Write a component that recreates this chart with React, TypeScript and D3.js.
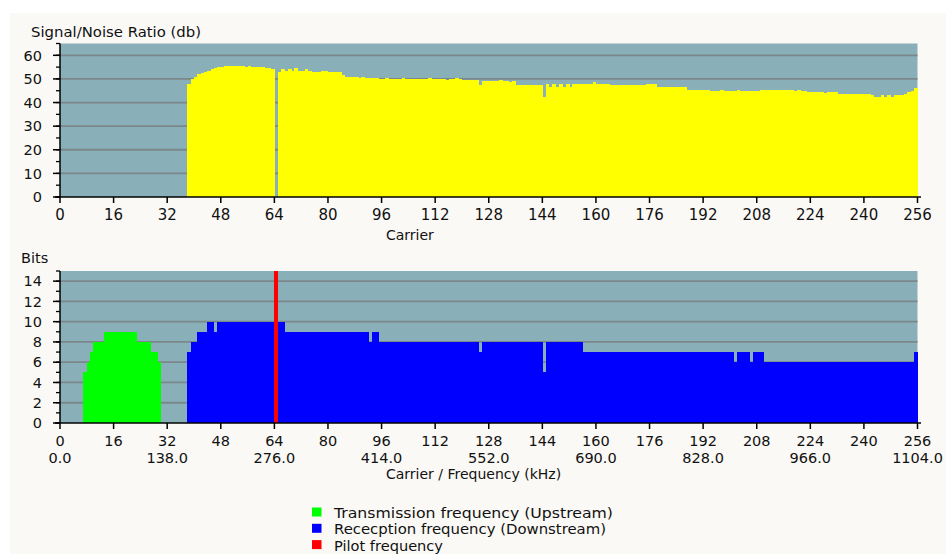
import React from "react";
import * as d3 from "d3";

// ---------- DATA ----------
const carrierTicks = [0, 16, 32, 48, 64, 80, 96, 112, 128, 144, 160, 176, 192, 208, 224, 240, 256];
const freqTickCarriers = [0, 32, 64, 96, 128, 160, 192, 224, 256];
const freqTickLabels = ["0.0", "138.0", "276.0", "414.0", "552.0", "690.0", "828.0", "966.0", "1104.0"];
const snrTicks = [0, 10, 20, 30, 40, 50, 60];
const bitsTicks = [0, 2, 4, 6, 8, 10, 12, 14];

// SNR per carrier 0..255 (dB)
const snrValues = [
  0, 0, 0, 0, 0, 0, 0, 0, 0, 0, 0, 0, 0, 0, 0, 0, 0, 0, 0, 0,
  0, 0, 0, 0, 0, 0, 0, 0, 0, 0, 0, 0, 0, 0, 0, 0, 0, 0,
  48, 50, 51, 52, 52.5, 53, 53.5, 54, 54.5, 55, 55, 55.5, 55.5, 55.5, 55.5, 55.5, 55.5, 55, 55.5, 55,
  55, 55, 55, 54.5, 54.5, 54,
  0,
  53, 54, 53.5, 54, 53.5, 54.5, 53.5, 53.5, 54, 53.5, 53, 53, 53, 53.5, 53.5, 53, 53, 53, 53,
  51.5, 51, 51, 51, 51, 50.5, 51, 50.5, 50.5, 50.5, 50.5,
  50, 50, 50.5, 50, 50, 50, 50, 50.5, 50, 50, 50, 50, 50, 50, 50, 50.5, 50, 50, 50, 50,
  49.5, 50, 50, 50.5, 50, 49.5, 49.5, 49.5, 49.5, 49.5,
  47.5,
  49, 49, 49, 49, 49, 49.5, 49, 49, 48.5, 49,
  47.5, 47.5, 47.5, 47.5, 47.5, 47.5, 47.5, 47.5,
  42.5,
  48, 46.5, 48, 46.5, 48, 46.5, 48, 46.5, 48, 48, 48,
  48, 48, 48, 48.5, 48, 48, 48, 48, 47.5, 47.5, 47.5,
  47.5, 47.5, 47.5, 47.5, 47.5, 47.5, 47.5, 47.5,
  48, 48, 48,
  46.5, 46.5, 46.5, 46.5, 46.5, 46.5, 46.5, 46.5, 46.5,
  45.5, 45.5, 45.5, 45.5, 45.5, 45.5, 45.5,
  45, 45, 45, 45.5, 45, 45, 45, 45, 45.5, 45, 45, 45, 45, 45, 45, 45.5,
  45.5, 45.5, 45.5, 45.5, 45.5, 45.5, 45.5, 45.5, 45.5, 45, 45.5,
  45, 45, 44.5, 44.5, 44.5, 44.5, 44.5, 44, 44.5, 44.5, 44.5,
  43.5, 43.5, 43.5, 43.5, 43.5, 43.5, 43.5, 43.5, 43.5, 43.5,
  43, 42.5, 42.5, 43, 42.5, 43, 42.5, 43, 43, 43,
  43.5, 44.5, 45, 46,
];

// Upstream bits, carriers 7..29
const upstreamStart = 7;
const upstreamBits = [5, 6, 7, 8, 8, 8, 9, 9, 9, 9, 9, 9, 9, 9, 9, 9, 8, 8, 8, 8, 7, 7, 6];

// Downstream bits, carriers 38..255
const downstreamStart = 38;
const downstreamBits = [
  7, 8, 8, 9, 9, 9, 10, 10, 9,
  10, 10, 10, 10, 10, 10, 10, 10, 10, 10, 10, 10, 10, 10, 10, 10, 10, 10, 10, 10,
  9, 9, 9, 9, 9, 9, 9, 9, 9, 9, 9, 9, 9, 9, 9, 9, 9, 9, 9, 9, 9, 9, 9, 9, 9,
  8, 9, 9,
  8, 8, 8, 8, 8, 8, 8, 8, 8, 8, 8, 8, 8, 8, 8, 8, 8, 8, 8, 8, 8, 8, 8, 8, 8, 8, 8, 8, 8, 8,
  7,
  8, 8, 8, 8, 8, 8, 8, 8, 8, 8, 8, 8, 8, 8, 8, 8, 8, 8,
  5,
  8, 8, 8, 8, 8, 8, 8, 8, 8, 8, 8,
  7, 7, 7, 7, 7, 7, 7, 7, 7, 7, 7, 7, 7, 7, 7, 7, 7, 7, 7, 7, 7, 7, 7, 7, 7,
  7, 7, 7, 7, 7, 7, 7, 7, 7, 7, 7, 7, 7, 7, 7, 7, 7, 7, 7, 7,
  6, 7, 7, 7, 7, 6, 7, 7, 7,
  6, 6, 6, 6, 6, 6, 6, 6, 6, 6, 6, 6, 6, 6, 6, 6, 6, 6, 6, 6, 6, 6, 6, 6, 6,
  6, 6, 6, 6, 6, 6, 6, 6, 6, 6, 6, 6, 6, 6, 6, 6, 6, 6, 6, 6,
  7,
];

const pilotCarrier = 64;

const legendItems = [
  { label: "Transmission frequency (Upstream)", color: "#00ff00", len: 279 },
  { label: "Rececption frequency (Downstream)", color: "#0000ff", len: 272 },
  { label: "Pilot frequency", color: "#ff0000", len: 109 },
];

// ---------- STYLE ----------
const FONT = "'DejaVu Sans', Verdana, sans-serif";
const PLOT_BG = "#89afb8";
const GRID = "#7b878a";
const PAGE_BG = "#fbf9f6";

export default function App() {
  const x = d3.scaleLinear().domain([0, 256]).range([60, 917.5]);
  const ySnr = d3.scaleLinear().domain([0, 65]).range([197, 43.5]);
  const yBits = d3.scaleLinear().domain([0, 15]).range([423, 271]);
  const bw = x(1) - x(0);

  const snrMinor = d3.range(0, 66, 5);
  const bitsMinor = d3.range(0, 16, 1);

  const yAxis = (y: any, major: number[], minor: number[]) => (
    <g>
      <line x1={60} x2={60} y1={y.range()[1]} y2={y.range()[0]} stroke="#000" strokeWidth={1.5} />
      {minor.map((t) => (
        <line key={"m" + t} x1={56} x2={60} y1={y(t)} y2={y(t)} stroke="#000" strokeWidth={1.3} />
      ))}
      {major.map((t) => (
        <g key={t}>
          <line x1={53} x2={60} y1={y(t)} y2={y(t)} stroke="#000" strokeWidth={1.5} />
          <text x={42} y={y(t)} dy="0.36em" textAnchor="end" fontSize={14.5} fill="#111">
            {t}
          </text>
        </g>
      ))}
    </g>
  );

  const grid = (y: any, ticks: number[]) =>
    ticks
      .filter((t) => t > 0)
      .map((t) => (
        <line key={"g" + t} x1={60} x2={917.5} y1={y(t)} y2={y(t)} stroke={GRID} strokeWidth={1.8} />
      ));

  const xAxis = (y0: number, fs: number) => (
    <g>
      <line x1={55} x2={921} y1={y0} y2={y0} stroke="#000" strokeWidth={1.5} />
      {carrierTicks.map((t) => (
        <g key={t}>
          <line x1={x(t)} x2={x(t)} y1={y0} y2={y0 + 6} stroke="#000" strokeWidth={1.5} />
          <text x={x(t)} y={y0 + 23} textAnchor="middle" fontSize={fs} fill="#111">
            {t}
          </text>
        </g>
      ))}
    </g>
  );

  return (
    <svg
      width={946}
      height={554}
      style={{ position: "absolute", left: 0, top: 0, fontFamily: FONT }}
    >
      <rect x={0} y={0} width={946} height={554} fill="#ffffff" />
      <rect x={10} y={13} width={936} height={541} fill={PAGE_BG} />

      {/* ---------- TOP: SNR ---------- */}
      <text x={31} y={37} fontSize={14.5} fill="#111" textLength={170} lengthAdjust="spacingAndGlyphs">
        Signal/Noise Ratio (db)
      </text>
      <rect x={60} y={ySnr(65)} width={x(256) - 60} height={197 - ySnr(65)} fill={PLOT_BG} />
      {grid(ySnr, snrTicks)}
      <g shapeRendering="crispEdges">
        {snrValues.map((v, i) =>
          v > 0 ? (
            <rect key={i} x={x(i)} y={ySnr(v)} width={bw + 0.4} height={197 - ySnr(v)} fill="#ffff00" />
          ) : null
        )}
      </g>
      {yAxis(ySnr, snrTicks, snrMinor)}
      {xAxis(197, 15)}
      <text x={386} y={240} fontSize={14} fill="#111">
        Carrier
      </text>

      {/* ---------- BOTTOM: Bits ---------- */}
      <text x={21} y={263} fontSize={14.5} fill="#111">
        Bits
      </text>
      <rect x={60} y={yBits(15)} width={x(256) - 60} height={423 - yBits(15)} fill={PLOT_BG} />
      {grid(yBits, bitsTicks)}
      <g shapeRendering="crispEdges">
        {upstreamBits.map((v, i) => (
          <rect
            key={"u" + i}
            x={x(upstreamStart + i)}
            y={yBits(v)}
            width={bw + 0.4}
            height={423 - yBits(v)}
            fill="#00ff00"
          />
        ))}
        {downstreamBits.map((v, i) => (
          <rect
            key={"d" + i}
            x={x(downstreamStart + i)}
            y={yBits(v)}
            width={bw + 0.4}
            height={423 - yBits(v)}
            fill="#0000ff"
          />
        ))}
        <rect x={x(pilotCarrier)} y={yBits(15)} width={bw} height={423 - yBits(15)} fill="#ff0000" />
      </g>
      {yAxis(yBits, bitsTicks, bitsMinor)}
      {xAxis(423, 14.5)}
      {freqTickCarriers.map((c, i) => (
        <text key={"f" + c} x={x(c)} y={463} textAnchor="middle" fontSize={14.5} fill="#111">
          {freqTickLabels[i]}
        </text>
      ))}
      <text x={386} y={479} fontSize={14} fill="#111">
        Carrier / Frequency (kHz)
      </text>

      {/* ---------- LEGEND ---------- */}
      {legendItems.map((d, i) => (
        <g key={d.label}>
          <rect x={312} y={507.5 + i * 16.3} width={9.5} height={9} fill={d.color} />
          <text x={334} y={518 + i * 16.3} fontSize={14} fill="#111" textLength={d.len} lengthAdjust="spacingAndGlyphs">
            {d.label}
          </text>
        </g>
      ))}
    </svg>
  );
}
